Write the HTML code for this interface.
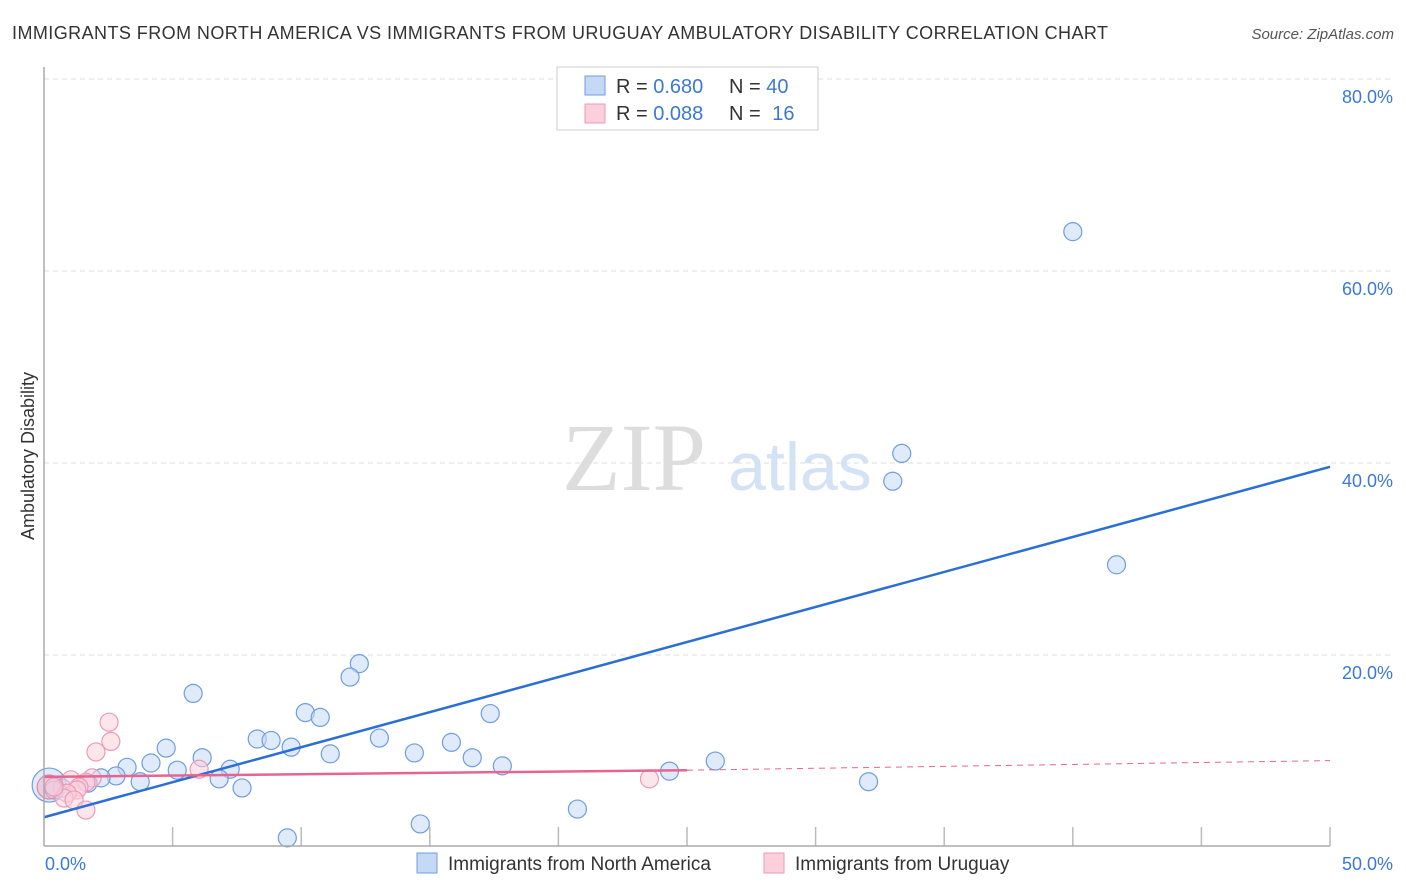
<!DOCTYPE html>
<html><head><meta charset="utf-8">
<style>
body{margin:0;background:#fff;font-family:"Liberation Sans",sans-serif;}
svg{display:block}
</style></head>
<body>
<svg id="chart" width="1406" height="892" xmlns="http://www.w3.org/2000/svg">
<text x="12" y="39" font-size="18" fill="#333" textLength="1096">IMMIGRANTS FROM NORTH AMERICA VS IMMIGRANTS FROM URUGUAY AMBULATORY DISABILITY CORRELATION CHART</text>
<text x="1394" y="39" font-size="15" fill="#555" font-style="italic" text-anchor="end">Source: ZipAtlas.com</text>
<text x="634" y="490" font-size="96" fill="#ddd" font-family="Liberation Serif,serif" text-anchor="middle">ZIP</text>
<text x="800" y="490" font-size="68" fill="#d3e2f5" text-anchor="middle">atlas</text>
<text transform="translate(34,456) rotate(-90)" font-size="18" fill="#333" text-anchor="middle">Ambulatory Disability</text>
<g id="grid"></g>
<g id="marks"></g>
<line x1="44" y1="67" x2="44" y2="846" stroke="#aaa" stroke-width="1.5"/>
<line x1="44" y1="846" x2="1330" y2="846" stroke="#aaa" stroke-width="1.5"/>
<text x="45" y="870" font-size="18" fill="#3b78d8">0.0%</text>
<text x="1393" y="870" font-size="18" fill="#3b78d8" text-anchor="end">50.0%</text>
<g>
<rect x="557" y="67" width="261" height="63" fill="#fff" stroke="#ccc"/>
<rect x="585" y="76" width="20" height="19" fill="#c5d9f5" stroke="#6f9de0"/>
<rect x="585" y="104" width="20" height="19" fill="#fbcfdc" stroke="#ec9ab5"/>
<text x="616" y="93" font-size="20" fill="#333">R = <tspan fill="#3b78d8">0.680</tspan></text>
<text x="729" y="93" font-size="20" fill="#333">N = <tspan fill="#3b78d8">40</tspan></text>
<text x="616" y="120" font-size="20" fill="#333">R = <tspan fill="#3b78d8">0.088</tspan></text>
<text x="729" y="120" font-size="20" fill="#333">N = <tspan fill="#3b78d8" dx="6">16</tspan></text>
</g>
<g>
<rect x="417" y="853" width="20" height="20" fill="#c5d9f5" stroke="#6f9de0"/>
<text x="448" y="870" font-size="19" fill="#333">Immigrants from North America</text>
<rect x="764" y="853" width="20" height="20" fill="#fbcfdc" stroke="#ec9ab5"/>
<text x="795" y="870" font-size="19" fill="#333">Immigrants from Uruguay</text>
</g>
</svg>
<script>
const yTicks=[20,40,60,80];
const yTickLabels=["20.0%","40.0%","60.0%","80.0%"];
const xTicks=[5,10,15,20,25,30,35,40,45,50];
const blueX=[40.0,33.35,33.0,41.7,12.26,11.9,5.8,10.16,10.74,17.35,8.29,8.83,9.61,13.04,15.84,4.75,14.4,11.13,16.65,6.15,4.16,3.23,17.82,7.24,5.18,24.32,26.1,2.8,2.22,6.81,3.74,7.7,32.06,1.71,0.7,0.39,20.74,14.63,9.46];
const blueY=[64.1,41.0,38.1,29.4,19.1,17.7,16.0,14.0,13.5,13.9,11.25,11.1,10.4,11.35,10.9,10.3,9.8,9.7,9.3,9.3,8.75,8.3,8.45,8.1,8.0,7.9,8.95,7.4,7.2,7.1,6.8,6.15,6.8,6.65,6.15,5.95,3.95,2.4,0.95];
const pinkX=[2.53,2.6,2.02,6.03,1.87,1.05,1.63,1.36,1.28,0.9,0.78,1.17,1.63,23.54,0.39];
const pinkY=[13.0,11.0,9.9,8.1,7.2,7.0,6.75,6.25,5.95,5.6,5.1,4.9,3.85,7.1,6.25];
const bigBlue=[0.2,6.45];
const bigPink=[0.2,6.25];
const blueTrend=[[0,3.1],[50,39.6]];
const pinkTrend=[[0,7.3],[25,8.0],[50,9.0]];
const NS="http://www.w3.org/2000/svg";
const sx=v=>44+v*25.72, sy=v=>847-v*9.6;
const grid=document.getElementById('grid'), marks=document.getElementById('marks');
function mk(tag,attrs,parent){const e=document.createElementNS(NS,tag);for(const k in attrs)e.setAttribute(k,attrs[k]);parent.appendChild(e);return e;}
yTicks.forEach((t,i)=>{
 const l=mk('line',{x1:44,x2:1394,y1:sy(t),y2:sy(t),stroke:'#ddd','stroke-dasharray':'5,4'},grid);
 
 
 const tx=mk('text',{x:1393,y:sy(t)+24,'font-size':18,fill:'#3b78d8','text-anchor':'end'},grid);
 tx.textContent=yTickLabels[i];
 
 
});
xTicks.forEach(t=>{
 const l=mk('line',{x1:sx(t),x2:sx(t),y1:827,y2:846,stroke:'#bbb','stroke-width':1.5},grid);
 
 
});
function dot(x,y,r,fill,stroke,name){
 const c=mk('circle',{cx:sx(x),cy:sy(y),r:r,fill:fill,'fill-opacity':0.55,stroke:stroke,'stroke-width':1.2},marks);
 
 
}
dot(bigBlue[0],bigBlue[1],17,'#c5d9f5','#6f9de0','blue-point-large');
blueX.forEach((x,i)=>dot(x,blueY[i],9,'#c5d9f5','#6f9de0','blue-point'));
dot(bigPink[0],bigPink[1],12,'#f4b3c8','#e883a5','pink-point-large');
pinkX.forEach((x,i)=>dot(x,pinkY[i],9,'#fbcfdc','#ec9ab5','pink-point'));
const bl=mk('line',{x1:sx(blueTrend[0][0]),y1:sy(blueTrend[0][1]),x2:sx(blueTrend[1][0]),y2:sy(blueTrend[1][1]),stroke:'#2a6fd6','stroke-width':2.5},marks);


const pl=mk('line',{x1:sx(pinkTrend[0][0]),y1:sy(pinkTrend[0][1]),x2:sx(pinkTrend[1][0]),y2:sy(pinkTrend[1][1]),stroke:'#e8648f','stroke-width':2.5},marks);


const pd=mk('line',{x1:sx(pinkTrend[1][0]),y1:sy(pinkTrend[1][1]),x2:sx(pinkTrend[2][0]),y2:sy(pinkTrend[2][1]),stroke:'#e8648f','stroke-width':1,'stroke-dasharray':'6,5'},marks);


</script>
</body></html>
